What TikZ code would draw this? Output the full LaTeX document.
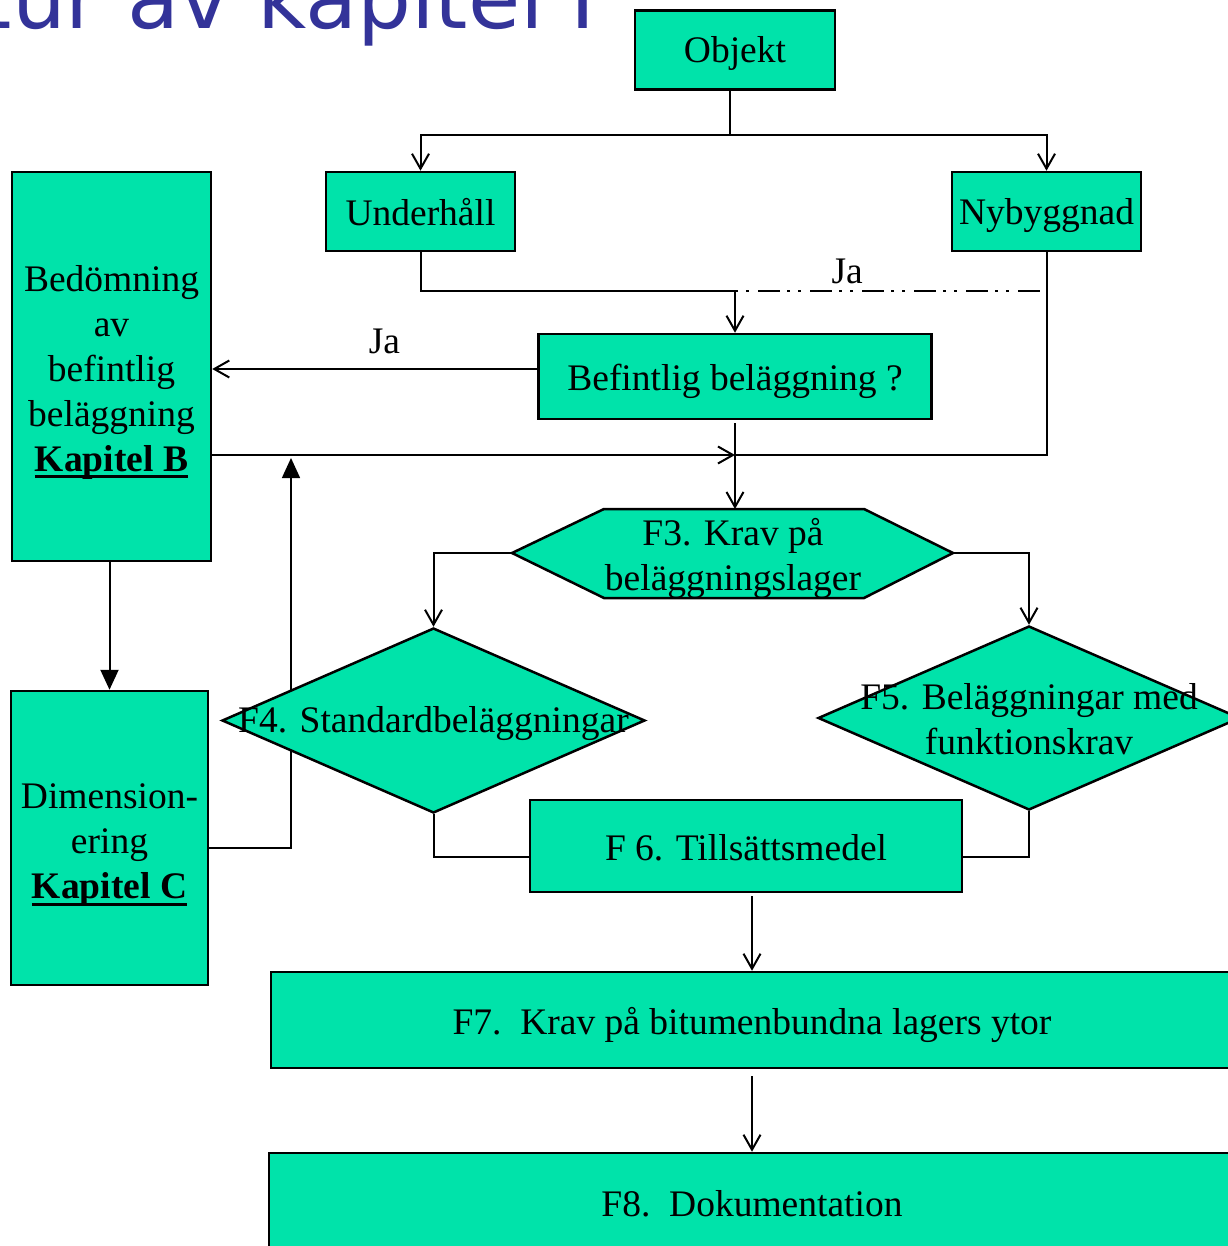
\documentclass[tikz,border=0pt]{standalone}
\usepackage{fontspec}
\setmainfont{Liberation Serif}
\newfontfamily\titlefont{DejaVu Sans}
\usetikzlibrary{shapes.geometric,arrows.meta,backgrounds}
\definecolor{flowgreen}{RGB}{0,227,170}
\definecolor{titleblue}{RGB}{51,51,153}
\newsavebox{\kapbox}
\newcommand{\kapref}[1]{\sbox{\kapbox}{\textbf{#1}}\rlap{\rule[-7pt]{\wd\kapbox}{2.8pt}}\usebox{\kapbox}}
\tikzset{
	flowbox/.style={rectangle, draw=black, fill=flowgreen, line width=2.5pt, inner sep=0pt, align=center, font=\fontsize{37.5}{45}\selectfont}
}
\tikzset{
	flowdiamond/.style={diamond, draw=black, fill=flowgreen, line width=2.5pt, inner sep=0pt}
}
\tikzset{
	flowtext/.style={align=center, inner sep=0pt, font=\fontsize{37.5}{45}\selectfont}
}
\tikzset{
	conn/.style={line width=2pt, >={Straight Barb[length=15pt,width=17pt]}},
	thinconn/.style={line width=1.5pt},
	dashdotdot/.style={line width=2.5pt, dash pattern=on 3pt off 8pt on 3pt off 9pt on 22pt off 7pt}
}
\begin{document}
\begin{tikzpicture}[x=1pt,y=-1pt]
	\useasboundingbox (0,0) rectangle (1227,1246);
	% titel
	\node[anchor=base east, inner sep=0pt, text=titleblue, font=\titlefont\fontsize{85}{90}\selectfont] (title) at (620,29) {Struktur av kapitel F};
	% rutor
	\node[flowbox, minimum width=200pt, minimum height=79pt, text height=32pt] (objekt) at (735,50) {Objekt};
	\node[flowbox, minimum width=189pt, minimum height=79pt, text height=28.5pt] (underhall) at (420.5,211.5) {Underhåll};
	\node[flowbox, minimum width=189pt, minimum height=79pt, text height=35pt] (nybyggnad) at (1046.5,211.5) {Nybyggnad};
	\node[flowbox, minimum width=393pt, minimum height=85pt, text height=37pt] (befintlig) at (735,376.5) {Befintlig beläggning ?};
	\node[flowbox, minimum width=199pt, minimum height=389pt, text height=217.5pt] (bedomning) at (111.5,366.5) {Bedömning\\av\\befintlig\\beläggning\\\kapref{Kapitel B}};
	\node[flowbox, minimum width=197pt, minimum height=294pt, text height=129.5pt] (dimension) at (109.5,838) {Dimension-\\ering\\\kapref{Kapitel C}};
	\node[flowbox, minimum width=432pt, minimum height=92pt, text height=30pt] (f6) at (746,846) {F 6. Tillsättsmedel};
	\node[flowbox, minimum width=962pt, minimum height=96pt, text height=37pt] (f7) at (752,1020) {F7.\ \ Krav på bitumenbundna lagers ytor};
	\node[flowbox, minimum width=966pt, minimum height=96pt, text height=32pt] (f8) at (752,1201) {F8.\ \ Dokumentation};
	% F3 sexhorning
	\coordinate (f3w) at (512,553);
	\coordinate (f3e) at (953,553);
	\coordinate (f3top) at (735,509);
	\draw[line width=2.5pt, fill=flowgreen] (f3w) -- (604,509) -- (864,509) -- (f3e) -- (864,598) -- (604,598) -- cycle;
	\node[flowtext] (f3) at (733,558) {F3. Krav på\\beläggningslager};
	% romber
	\node[flowdiamond, minimum width=423pt, minimum height=185pt] (f4) at (433.5,720.5) {};
	\node[flowtext] (f4text) at (433.5,724) {F4. Standardbeläggningar};
	\node[flowdiamond, minimum width=422pt, minimum height=184pt] (f5) at (1029,718) {};
	\node[flowtext] (f5text) at (1029,719) {F5. Beläggningar med\\funktionskrav};
	% pilar
	\coordinate (join) at (735,455);
	\coordinate (uptip) at (291,458);
	\draw[conn,->] ([xshift=-5pt]objekt.south) -- ++(0,44) -| (underhall.north);
	\draw[conn,->] ([xshift=-5pt]objekt.south) -- ++(0,44) -| (nybyggnad.north);
	\draw[conn,->] (underhall.south) -- ++(0,39) -| coordinate[pos=0.5] (merge) (befintlig.north);
	\draw[dashdotdot] (merge) -- (merge -| nybyggnad.south) node[pos=0.36, above=6pt, flowtext] (ja1) {Ja};
	\draw[conn] (nybyggnad.south) |- (join);
	\draw[conn,->] ([yshift=7.5pt]befintlig.west) -- ([yshift=7.5pt]befintlig.west -| bedomning.east) node[pos=0.47, above=14pt, flowtext] (ja2) {Ja};
	\draw[conn,->] (bedomning.east |- join) -- (join);
	\draw[conn,->] ([yshift=-3pt]befintlig.south) -- (befintlig.south |- f3top);
	\draw[conn,-{Triangle[length=20pt,width=18pt]}] (bedomning.south -| dimension.north) -- (dimension.north);
	\begin{scope}[on background layer]
		\draw[thinconn,-{Triangle[length=20pt,width=18pt]}] ([yshift=-10pt]dimension.east) -| (uptip);
	\end{scope}
	\draw[conn,->] (f3w) -| (f4.north);
	\draw[conn,->] (f3e) -| (f5.north);
	\draw[conn] (f4.south) |- ([yshift=-11pt]f6.west);
	\draw[conn] (f5.south) |- ([yshift=-11pt]f6.east);
	\draw[conn,->] ([yshift=-3pt]f7.north |- f6.south) -- (f7.north);
	\draw[conn,->] ([yshift=-7pt]f7.south) -- (f8.north);
\end{tikzpicture}
\end{document}
